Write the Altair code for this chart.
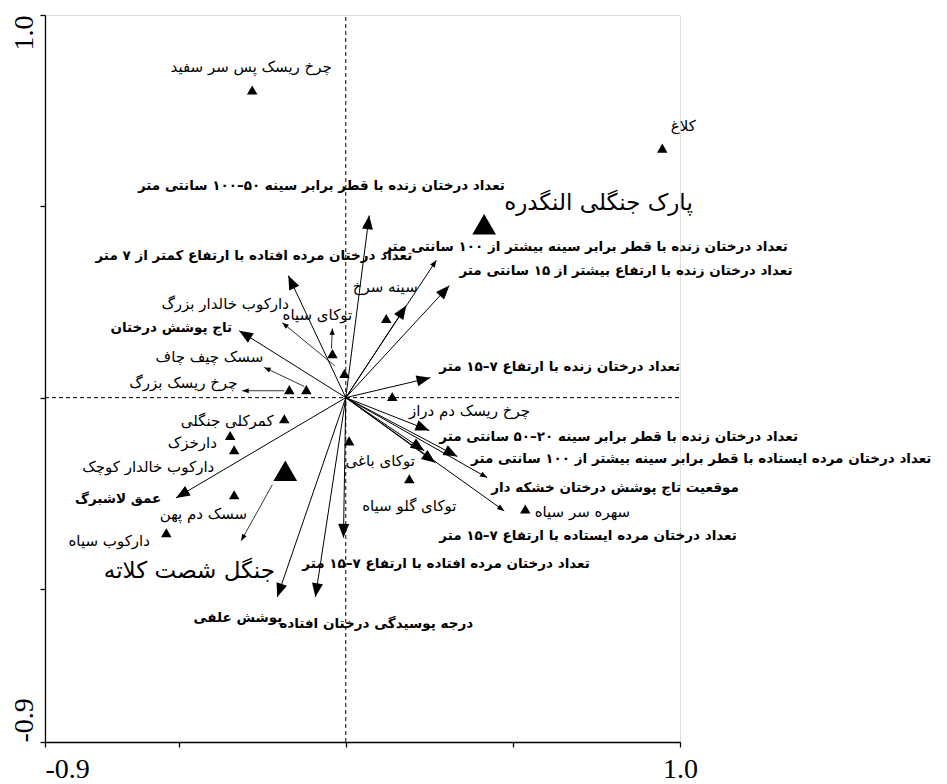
import math
import altair as alt
import pandas as pd

# ---- axis ranges / panel size ----
X_MIN, X_MAX = -0.9, 1.0
Y_MIN, Y_MAX = -0.9, 1.0
W, H = 635, 727
SX = W / (X_MAX - X_MIN)
SY = H / (Y_MAX - Y_MIN)

# ---- species (small triangles) ----
species_names = ["چرخ ریسک پس سر سفید", "کلاغ", "سینه سرخ", "توکای سیاه", "دارکوب خالدار بزرگ",
                 "سسک چیف چاف", "چرخ ریسک بزرگ", "کمرکلی جنگلی", "دارخزک", "دارکوب خالدار کوچک",
                 "سسک دم پهن", "دارکوب سیاه", "چرخ ریسک دم دراز", "توکای باغی", "توکای گلو سیاه",
                 "سهره سر سیاه"]
species_x = [-0.280, 0.947, 0.121, -0.040, -0.004, -0.118, -0.169, -0.184, -0.346, -0.334,
             -0.334, -0.537, 0.139, 0.010, 0.190, 0.537]
species_y = [0.804, 0.652, 0.207, 0.115, 0.063, 0.021, 0.021, -0.055, -0.099, -0.136,
             -0.254, -0.353, 0.003, -0.113, -0.212, -0.291]
species_label_x = [-0.283, 1.010, 0.118, -0.085, -0.361, -0.408, -0.486, -0.355, -0.459, -0.591,
                   -0.426, -0.708, 0.370, 0.103, 0.190, 0.708]
species_label_y = [0.864, 0.709, 0.288, 0.215, 0.246, 0.107, 0.037, -0.060, -0.118, -0.181,
                   -0.304, -0.374, -0.034, -0.165, -0.283, -0.298]

# ---- sites (large triangles) ----
site_names = ["پارک جنگلی النگدره", "جنگل شصت کلاته"]
site_x = [0.414, -0.181]
site_y = [0.453, -0.191]
site_label_x = [0.756, -0.468]
site_label_y = [0.508, -0.453]

# ---- environmental arrows (tips) ----
arrow_x = [0.070, -0.172, 0.271, 0.181, 0.310, 0.253, -0.319, 0.250, 0.334, 0.423, 0.474,
           0.235, 0.268, -0.007, -0.091, -0.205, -0.508]
arrow_y = [0.476, 0.319, 0.359, 0.241, 0.293, 0.052, 0.175, -0.086, -0.154, -0.209, -0.296,
           -0.139, -0.170, -0.366, -0.521, -0.521, -0.262]
arrow_head = ["big", "big", "small", "big", "big", "big", "big", "big", "big", "small", "small",
              "big", "big", "big", "big", "big", "big"]

# ---- environmental labels ----
env_names = [
    "تعداد درختان زنده با قطر برابر سینه ۵۰–۱۰۰ سانتی متر",
    "تعداد درختان مرده افتاده با ارتفاع کمتر از ۷ متر",
    "تعداد درختان زنده با قطر برابر سینه بیشتر از ۱۰۰ سانتی متر",
    "تعداد درختان زنده با ارتفاع بیشتر از ۱۵ سانتی متر",
    "تعداد درختان زنده با ارتفاع ۷–۱۵ متر",
    "تاج پوشش درختان",
    "تعداد درختان زنده با قطر برابر سینه ۲۰–۵۰ سانتی متر",
    "تعداد درختان مرده ایستاده با قطر برابر سینه بیشتر از ۱۰۰ سانتی متر",
    "موقعیت تاج پوشش درختان خشکه دار",
    "تعداد درختان مرده ایستاده با ارتفاع ۷–۱۵ متر",
    "تعداد درختان مرده افتاده با ارتفاع ۷–۱۵ متر",
    "درجه پوسیدگی درختان افتاده",
    "پوشش علفی",
    "عمق لاشبرگ",
]
env_label_x = [-0.073, 0.199, 0.115, 0.340, 0.280, -0.340, 0.280, 0.375, 0.435, 0.280,
               -0.130, -0.199, -0.190, -0.552]
env_label_y = [0.552, 0.369, 0.393, 0.330, 0.081, 0.183, -0.102, -0.160, -0.236, -0.361,
               -0.435, -0.592, -0.576, -0.264]
env_label_align = ["center", "right", "left", "left", "left", "right", "left", "left", "left",
                   "left", "left", "left", "right", "right"]

# ---- label leader lines (start -> end) ----
leader_x1 = [-0.220, -0.124, -0.184, -0.034, -0.043]
leader_y1 = [-0.228, 0.029, 0.018, 0.084, 0.128]
leader_x2 = [-0.313, -0.244, -0.310, -0.190, -0.040]
leader_y2 = [-0.374, 0.079, 0.018, 0.196, 0.181]

# ---- axis ticks ----
tick_values = [-0.9, -0.5, 0.0, 0.5, 1.0]


def head_angle(dx, dy):
    return math.degrees(math.atan2(dx * SX, dy * SY)) % 360


HEAD_PATH = "M0,0L-0.4,1L0.4,1Z"
FONT = "DejaVu Sans"

arrows = pd.DataFrame({
    "x0": [0.0] * len(arrow_x), "y0": [0.0] * len(arrow_x),
    "x": arrow_x, "y": arrow_y, "head": arrow_head,
    "angle": [head_angle(a, b) for a, b in zip(arrow_x, arrow_y)],
})
leaders = pd.DataFrame({
    "x1": leader_x1, "y1": leader_y1, "x2": leader_x2, "y2": leader_y2,
    "angle": [head_angle(c - a, d - b) for a, b, c, d in zip(leader_x1, leader_y1, leader_x2, leader_y2)],
})
species = pd.DataFrame({"name": species_names, "x": species_x, "y": species_y,
                        "lx": species_label_x, "ly": species_label_y})
sites = pd.DataFrame({"name": site_names, "x": site_x, "y": site_y,
                      "lx": site_label_x, "ly": site_label_y})
env = pd.DataFrame({"name": env_names, "x": env_label_x, "y": env_label_y, "align": env_label_align})
zero_v = pd.DataFrame({"x": [0.0], "y": [Y_MIN], "y2": [Y_MAX]})
zero_h = pd.DataFrame({"y": [0.0], "x": [X_MIN], "x2": [X_MAX]})

xscale = alt.Scale(domain=[X_MIN, X_MAX], nice=False, zero=False)
yscale = alt.Scale(domain=[Y_MIN, Y_MAX], nice=False, zero=False)

xaxis = alt.Axis(values=tick_values, grid=False, title=None,
                 labelExpr="datum.value < -0.8 ? '-0.9' : (datum.value > 0.9 ? '1.0' : '')",
                 labelFont="Liberation Serif", labelFontSize=28, labelColor="black",
                 labelAlign={"condition": {"test": "datum.value < 0", "value": "left"}, "value": "center"},
                 labelBaseline="top", labelPadding=8, labelFlush=False, labelOverlap=False,
                 domainColor="black", domainWidth=1.3, tickColor="black", tickWidth=1.3, tickSize=5)
yaxis = alt.Axis(values=tick_values, grid=False, title=None,
                 labelExpr="datum.value < -0.8 ? '-0.9' : (datum.value > 0.9 ? '1.0' : '')",
                 labelFont="Liberation Serif", labelFontSize=28, labelColor="black", labelAngle=270,
                 labelAlign={"condition": {"test": "datum.value < 0", "value": "left"}, "value": "right"},
                 labelBaseline="alphabetic", labelPadding=8, labelFlush=False, labelOverlap=False,
                 domainColor="black", domainWidth=1.3, tickColor="black", tickWidth=1.3, tickSize=5)

base_x = alt.X("x:Q", scale=xscale, axis=xaxis)
base_y = alt.Y("y:Q", scale=yscale, axis=yaxis)

vline = alt.Chart(zero_v).mark_rule(color="black", strokeDash=[4, 3], strokeWidth=1).encode(
    x=base_x, y=alt.Y("y:Q", scale=yscale, axis=yaxis), y2="y2:Q")
hline = alt.Chart(zero_h).mark_rule(color="black", strokeDash=[4, 3], strokeWidth=1).encode(
    y=base_y, x=alt.X("x:Q", scale=xscale, axis=xaxis), x2="x2:Q")

shafts = alt.Chart(arrows).mark_rule(color="black", strokeWidth=1).encode(
    x=alt.X("x0:Q", scale=xscale, axis=xaxis), y=alt.Y("y0:Q", scale=yscale, axis=yaxis),
    x2="x:Q", y2="y:Q")
heads_big = alt.Chart(arrows).transform_filter(alt.datum.head == "big").mark_point(
    shape=HEAD_PATH, filled=True, color="black", opacity=1, size=760, strokeWidth=0).encode(
    x=base_x, y=base_y, angle=alt.Angle("angle:Q", scale=None))
heads_small = alt.Chart(arrows).transform_filter(alt.datum.head == "small").mark_point(
    shape=HEAD_PATH, filled=True, color="black", opacity=1, size=200, strokeWidth=0).encode(
    x=base_x, y=base_y, angle=alt.Angle("angle:Q", scale=None))

leader_lines = alt.Chart(leaders).mark_rule(color="black", strokeWidth=0.8).encode(
    x=alt.X("x1:Q", scale=xscale, axis=xaxis), y=alt.Y("y1:Q", scale=yscale, axis=yaxis),
    x2="x2:Q", y2="y2:Q")
leader_heads = alt.Chart(leaders).mark_point(
    shape=HEAD_PATH, filled=True, color="black", opacity=1, size=170, strokeWidth=0).encode(
    x=alt.X("x2:Q", scale=xscale, axis=xaxis), y=alt.Y("y2:Q", scale=yscale, axis=yaxis),
    angle=alt.Angle("angle:Q", scale=None))

species_pts = alt.Chart(species).mark_point(
    shape="triangle-up", filled=True, color="black", opacity=1, size=110).encode(x=base_x, y=base_y)
site_pts = alt.Chart(sites).mark_point(
    shape="triangle-up", filled=True, color="black", opacity=1, size=560).encode(x=base_x, y=base_y)

species_txt = alt.Chart(species).mark_text(
    font=FONT, fontSize=15, color="black", align="center", baseline="middle").encode(
    x=alt.X("lx:Q", scale=xscale, axis=xaxis), y=alt.Y("ly:Q", scale=yscale, axis=yaxis), text="name:N")
site_txt = alt.Chart(sites).mark_text(
    font=FONT, fontSize=23, color="black", align="center", baseline="middle").encode(
    x=alt.X("lx:Q", scale=xscale, axis=xaxis), y=alt.Y("ly:Q", scale=yscale, axis=yaxis), text="name:N")

env_layers = []
for al in ["left", "center", "right"]:
    env_layers.append(
        alt.Chart(env).transform_filter(alt.datum.align == al).mark_text(
            font=FONT, fontSize=13.5, fontWeight="bold", color="black", align=al, baseline="middle"
        ).encode(x=base_x, y=base_y, text="name:N")
    )

chart = alt.layer(
    vline, hline, shafts, heads_big, heads_small, leader_lines, leader_heads,
    species_pts, site_pts, species_txt, site_txt, *env_layers
).properties(
    width=W, height=H,
    autosize=alt.AutoSizeParams(type="none"),
    padding={"left": 37, "top": 7, "right": 259, "bottom": 40},
).configure_view(stroke=None).configure(background="white")

chart.save("out.html", embed_options={"renderer": "svg", "actions": False})
